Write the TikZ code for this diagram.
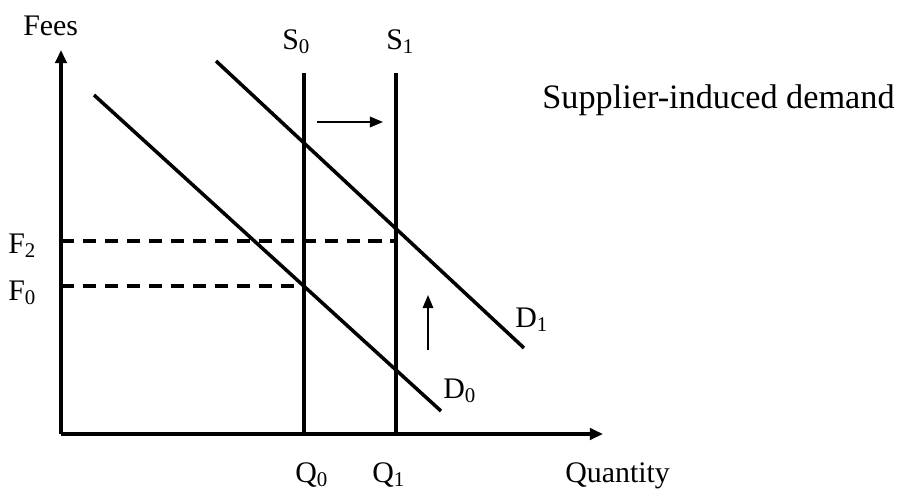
\documentclass[tikz,border=0pt]{standalone}
\usepackage{fontspec}
\setmainfont{Liberation Serif}
\usetikzlibrary{arrows.meta}

\tikzset{
	axisline/.style={
			line width=2pt,
			-{Triangle[length=7.5pt,width=6.5pt]}
		},
	curveline/.style={
			line width=2pt
		},
	priceline/.style={
			line width=2pt,
			dash pattern=on 7.5pt off 5pt
		},
	shiftarrow/.style={
			line width=1.1pt,
			-{Triangle[length=7.5pt,width=6pt]}
		},
	axislabel/.style={
			anchor=base west,
			inner sep=0pt,
			font=\fontsize{17}{20}\selectfont
		}
}

\begin{document}
\begin{tikzpicture}[x=0.02cm, y=-0.02cm]
  \useasboundingbox (0,0) rectangle (898,497);

  % axes
  \coordinate (o) at (61,434);
  \coordinate (ytip) at (61,50);
  \coordinate (xtip) at (603,434);
  \draw[axisline] (o) -- (ytip);
  \draw[axisline] (o) -- (xtip);

  % supply
  \coordinate (s0top) at (304,73);
  \coordinate (s0bot) at (304,434);
  \coordinate (s1top) at (396,73);
  \coordinate (s1bot) at (396,434);
  \draw[curveline] (s0top) -- (s0bot);
  \draw[curveline] (s1top) -- (s1bot);

  % demand
  \coordinate (d0a) at (94,95);
  \coordinate (d0b) at (441,411);
  \coordinate (d1a) at (216,61);
  \coordinate (d1b) at (524,348);
  \draw[curveline] (d0a) -- (d0b);
  \draw[curveline] (d1a) -- (d1b);

  % fees
  \coordinate (f2a) at (61,241);
  \coordinate (f2b) at (396,241);
  \coordinate (f0a) at (61,286);
  \coordinate (f0b) at (304,286);
  \draw[priceline] (f2a) -- (f2b);
  \draw[priceline] (f0a) -- (f0b);

  % shifts
  \coordinate (h1) at (317,122);
  \coordinate (h2) at (383,122);
  \coordinate (v1) at (428,350);
  \coordinate (v2) at (428,295);
  \draw[shiftarrow] (h1) -- (h2);
  \draw[shiftarrow] (v1) -- (v2);

  \node[axislabel] (fees) at (23,35) {Fees};
  \node[axislabel] (qty) at (565,482) {Quantity};
  \node[axislabel] (ls0) at (282,49) {S\textsubscript{0}};
  \node[axislabel] (ls1) at (386,49) {S\textsubscript{1}};
  \node[axislabel] (lf2) at (8,253) {F\textsubscript{2}};
  \node[axislabel] (lf0) at (8,300) {F\textsubscript{0}};
  \node[axislabel] (lq0) at (295,482) {Q\textsubscript{0}};
  \node[axislabel] (lq1) at (372,482) {Q\textsubscript{1}};
  \node[axislabel] (ld1) at (515,327) {D\textsubscript{1}};
  \node[axislabel] (ld0) at (443,398) {D\textsubscript{0}};
  \node[axislabel, font=\fontsize{19.5}{23}\selectfont] (sid) at (542,108) {Supplier-induced demand};

\end{tikzpicture}
\end{document}
